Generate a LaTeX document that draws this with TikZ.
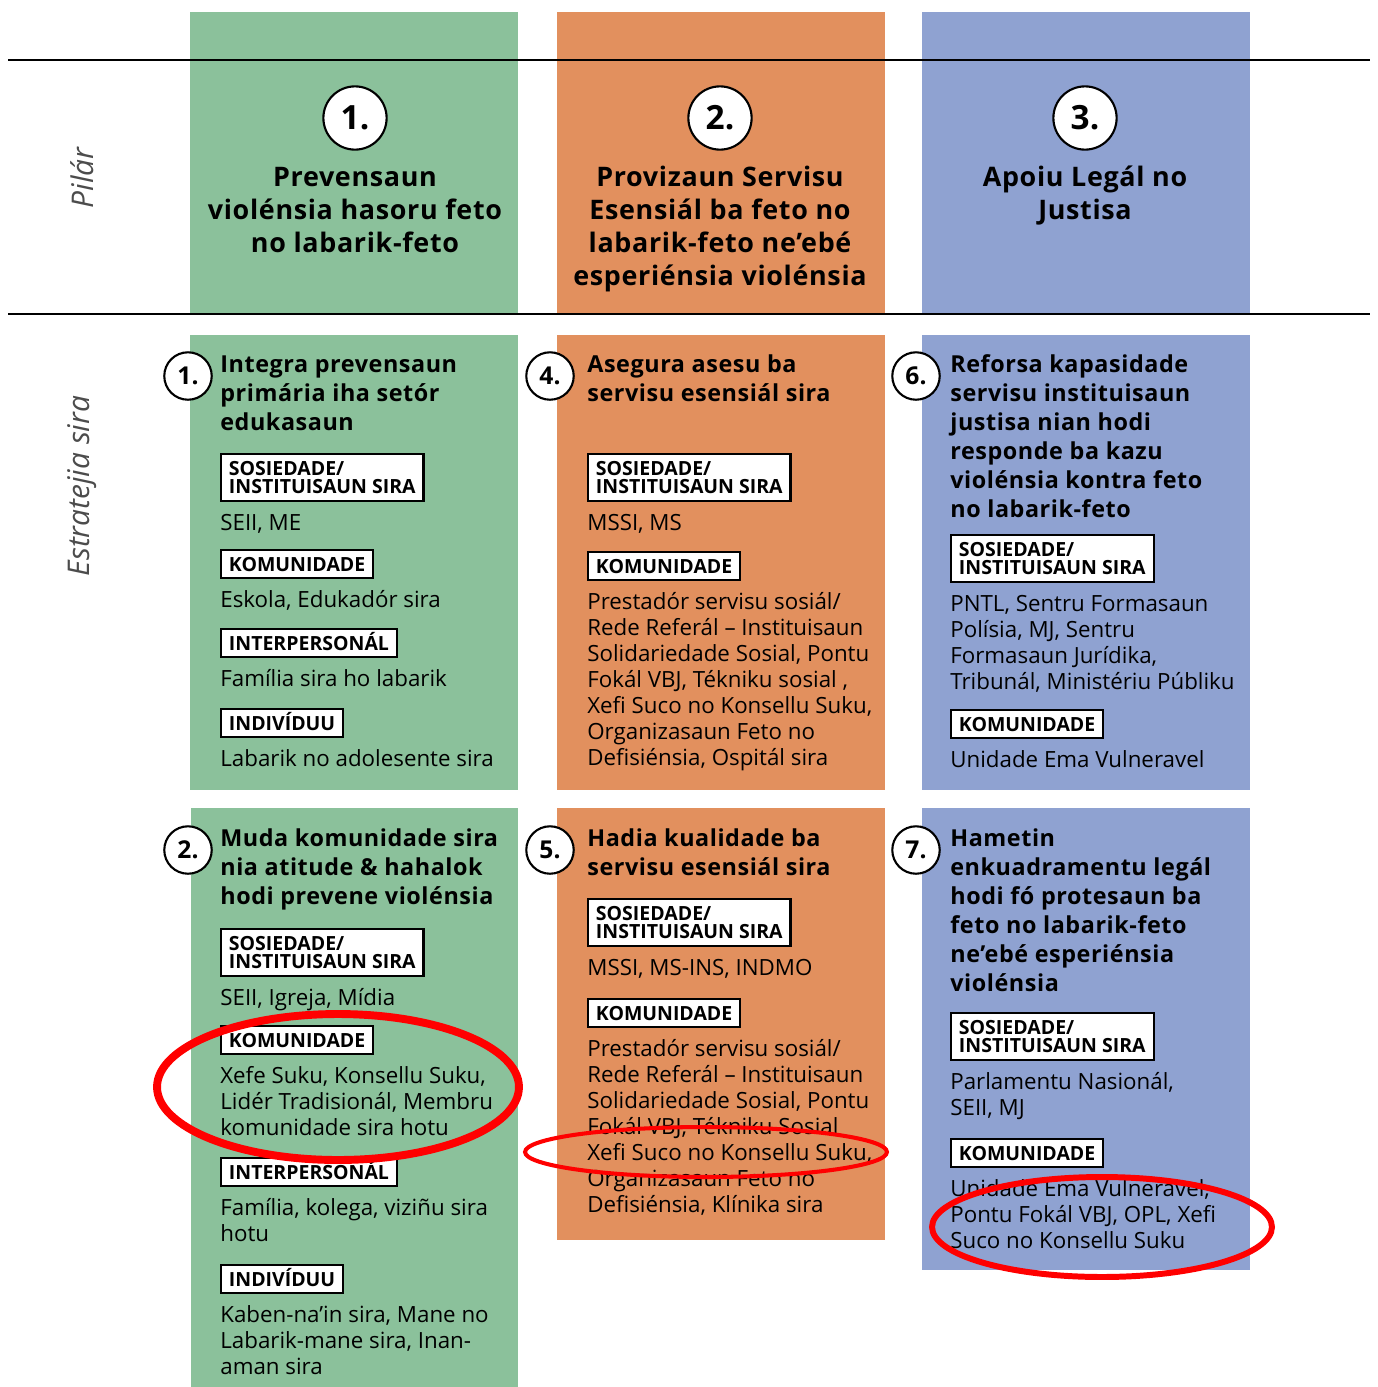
\documentclass[tikz,border=0pt]{standalone}
\usepackage{fontspec}
\setmainfont{Open Sans}
\usepackage{xcolor}
\usetikzlibrary{positioning}
\definecolor{pilgreen}{HTML}{8BC19B}
\definecolor{pilorange}{HTML}{E2905E}
\definecolor{pilblue}{HTML}{8FA2D1}
\tikzstyle{big num}=[
        draw,
        line width = 1.2pt,
        fill = white,
        circle,
        minimum size = 36pt,
        inner sep = 0pt,
        font = \fontsize{19pt}{19pt}\selectfont\bfseries
    ]
\tikzstyle{small num}=[
        draw,
        line width = 1.2pt,
        fill = white,
        circle,
        minimum size = 27pt,
        inner sep = 0pt,
        font = \fontsize{14pt}{14pt}\selectfont\bfseries
    ]
\tikzstyle{pillar title}=[
        align = center,
        inner sep = 0pt,
        font = \fontsize{15.3pt}{18.8pt}\selectfont\bfseries\addfontfeature{LetterSpace=2.5}
    ]
\tikzstyle{goal}=[
        align = left,
        anchor = north west,
        inner sep = 0pt,
        font = \fontsize{13.3pt}{16.5pt}\selectfont\bfseries\addfontfeature{LetterSpace=2.4}
    ]
\tikzstyle{tagbox}=[
        draw,
        line width = 1.2pt,
        fill = white,
        align = left,
        anchor = north west,
        inner xsep = 4.5pt,
        inner ysep = 0pt,
        font = \fontsize{11.1pt}{10.2pt}\selectfont\bfseries
    ]
\tikzstyle{tag}=[tagbox, minimum height = 16pt, text height = 7.9pt, text depth = 0pt]
\tikzstyle{tag two}=[tagbox, minimum height = 26.7pt]
\tikzstyle{body}=[
        align = left,
        inner sep = 0pt,
        font = \fontsize{12.7pt}{14.8pt}\selectfont
    ]
\tikzstyle{side label}=[
        text = black!70,
        inner sep = 0pt,
        font = \fontsize{17pt}{17pt}\selectfont\itshape
    ]
\tikzstyle{red mark}=[draw = red, line width = 4pt]

\begin{document}
\begin{tikzpicture}[x=0.02cm, y=-0.02cm]
        \useasboundingbox (0,0) rectangle (1377,1387);

        \fill[pilgreen] (190,12) rectangle (518,314);
        \fill[pilorange] (557,12) rectangle (885,314);
        \fill[pilblue] (922,12) rectangle (1250,314);
        \fill[pilgreen] (190,335) rectangle (518,790);
        \fill[pilorange] (557,335) rectangle (885,790);
        \fill[pilblue] (922,335) rectangle (1250,790);
        \fill[pilgreen] (191,808) rectangle (518,1387);
        \fill[pilorange] (557,808) rectangle (885,1240);
        \fill[pilblue] (922,808) rectangle (1250,1270);

        \draw[line width=1.2pt] (8,60) -- (1370,60);
        \draw[line width=1.2pt] (8,314) -- (1370,314);

        \node[side label, rotate=90] (pilar) at (82,178) {Pilár};
        \node[side label, rotate=90] (estratejia) at (82,486) {Estratejia sira};

        \node[big num] (C1) at (355,118) {1.};
        \node[big num] (C2) at (720,118) {2.};
        \node[big num] (C3) at (1085,118) {3.};
        \node[pillar title] (P1) [below=7pt of C1] {\strut Prevensaun\\violénsia hasoru feto\\no labarik-feto};
        \node[pillar title] (P2) [below=7pt of C2] {\strut Provizaun Servisu\\Esensiál ba feto no\\labarik-feto ne’ebé\\esperiénsia violénsia};
        \node[pillar title] (P3) [below=7pt of C3] {\strut Apoiu Legál no\\Justisa};

        % estratejia 1, 4, 6
        \node[small num] (N1) at (188,376) {1.};
        \node[goal] (G1) at (220,352) {\strut Integra prevensaun\\primária iha setór\\edukasaun};
        \node[tag two] (S1) at (220,453) {SOSIEDADE/\\INSTITUISAUN SIRA};
        \node[body] (S1t) [below right=5.7pt and 0pt of S1.south west] {\strut SEII, ME};
        \node[tag] (K1) at (220,549) {KOMUNIDADE};
        \node[body] (K1t) [below right=5.7pt and 0pt of K1.south west] {\strut Eskola, Edukadór sira};
        \node[tag] (I1) at (220,628) {INTERPERSONÁL};
        \node[body] (I1t) [below right=5.7pt and 0pt of I1.south west] {\strut Família sira ho labarik};
        \node[tag] (D1) at (220,708) {INDIVÍDUU};
        \node[body] (D1t) [below right=5.7pt and 0pt of D1.south west] {\strut Labarik no adolesente sira};

        \node[small num] (N4) at (550,376) {4.};
        \node[goal] (G4) at (587,352) {\strut Asegura asesu ba\\servisu esensiál sira};
        \node[tag two] (S4) at (587,453) {SOSIEDADE/\\INSTITUISAUN SIRA};
        \node[body] (S4t) [below right=5.7pt and 0pt of S4.south west] {\strut MSSI, MS};
        \node[tag] (K4) at (587,551) {KOMUNIDADE};
        \node[body] (K4t) [below right=5.7pt and 0pt of K4.south west] {\strut Prestadór servisu sosiál/\\Rede Referál – Instituisaun\\Solidariedade Sosial, Pontu\\Fokál VBJ, Tékniku sosial ,\\Xefi Suco no Konsellu Suku,\\Organizasaun Feto no\\Defisiénsia, Ospitál sira};

        \node[small num] (N6) at (916,376) {6.};
        \node[goal] (G6) at (950,352) {\strut Reforsa kapasidade\\servisu instituisaun\\justisa nian hodi\\responde ba kazu\\violénsia kontra feto\\no labarik-feto};
        \node[tag two] (S6) at (950,534) {SOSIEDADE/\\INSTITUISAUN SIRA};
        \node[body] (S6t) [below right=5.7pt and 0pt of S6.south west] {\strut PNTL, Sentru Formasaun\\Polísia, MJ, Sentru\\Formasaun Jurídika,\\Tribunál, Ministériu Públiku};
        \node[tag] (K6) at (950,709) {KOMUNIDADE};
        \node[body] (K6t) [below right=5.7pt and 0pt of K6.south west] {\strut Unidade Ema Vulneravel};

        % estratejia 2, 5, 7
        \node[small num] (N2) at (188,850) {2.};
        \node[goal] (G2) at (220,826) {\strut Muda komunidade sira\\nia atitude \& hahalok\\hodi prevene violénsia};
        \node[tag two] (S2) at (220,928) {SOSIEDADE/\\INSTITUISAUN SIRA};
        \node[body] (S2t) [below right=5.7pt and 0pt of S2.south west] {\strut SEII, Igreja, Mídia};
        \node[tag] (K2) at (220,1025) {KOMUNIDADE};
        \node[body] (K2t) [below right=5.7pt and 0pt of K2.south west] {\strut Xefe Suku, Konsellu Suku,\\Lidér Tradisionál, Membru\\komunidade sira hotu};
        \node[tag] (I2) at (220,1157) {INTERPERSONÁL};
        \node[body] (I2t) [below right=5.7pt and 0pt of I2.south west] {\strut Família, kolega, viziñu sira\\hotu};
        \node[tag] (D2) at (220,1264) {INDIVÍDUU};
        \node[body] (D2t) [below right=5.7pt and 0pt of D2.south west] {\strut Kaben-na’in sira, Mane no\\Labarik-mane sira, Inan-\\aman sira};

        \node[small num] (N5) at (550,850) {5.};
        \node[goal] (G5) at (587,826) {\strut Hadia kualidade ba\\servisu esensiál sira};
        \node[tag two] (S5) at (587,898) {SOSIEDADE/\\INSTITUISAUN SIRA};
        \node[body] (S5t) [below right=5.7pt and 0pt of S5.south west] {\strut MSSI, MS-INS, INDMO};
        \node[tag] (K5) at (587,998) {KOMUNIDADE};
        \node[body] (K5t) [below right=5.7pt and 0pt of K5.south west] {\strut Prestadór servisu sosiál/\\Rede Referál – Instituisaun\\Solidariedade Sosial, Pontu\\Fokál VBJ, Tékniku Sosial\\Xefi Suco no Konsellu Suku,\\Organizasaun Feto no\\Defisiénsia, Klínika sira};

        \node[small num] (N7) at (916,850) {7.};
        \node[goal] (G7) at (950,826) {\strut Hametin\\enkuadramentu legál\\hodi fó protesaun ba\\feto no labarik-feto\\ne’ebé esperiénsia\\violénsia};
        \node[tag two] (S7) at (950,1012) {SOSIEDADE/\\INSTITUISAUN SIRA};
        \node[body] (S7t) [below right=5.7pt and 0pt of S7.south west] {\strut Parlamentu Nasionál,\\SEII, MJ};
        \node[tag] (K7) at (950,1138) {KOMUNIDADE};
        \node[body] (K7t) [below right=5.7pt and 0pt of K7.south west] {\strut Unidade Ema Vulneravel,\\Pontu Fokál VBJ, OPL, Xefi\\Suco no Konsellu Suku};

        \draw[red mark, line width=4.5pt] (338,1087) ellipse [x radius=3.62cm, y radius=1.46cm];
        \draw[red mark, line width=2.3pt] (706,1152) ellipse [x radius=3.62cm, y radius=0.5cm];
        \draw[red mark, line width=3.4pt] (1102,1227) ellipse [x radius=3.4cm, y radius=1cm];
    \end{tikzpicture}
\end{document}
